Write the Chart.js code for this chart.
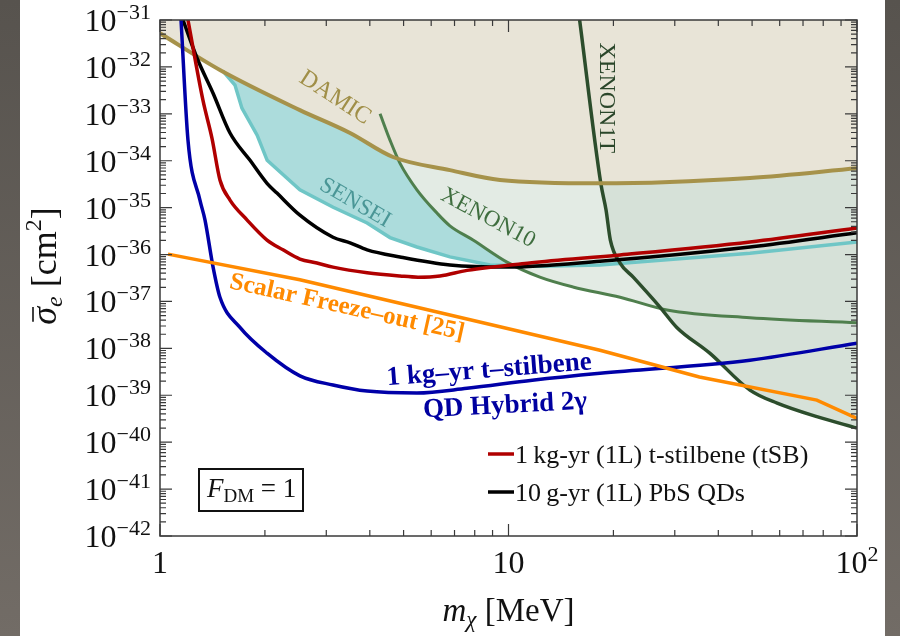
<!DOCTYPE html>
<html>
<head>
<meta charset="utf-8">
<script src="https://cdn.jsdelivr.net/npm/chart.js@4.4.0/dist/chart.umd.min.js"></script>
<style>
  html, body { margin: 0; padding: 0; background: #fff; }
  #wrap { width: 900px; height: 636px; }
</style>
</head>
<body>
<div id="wrap"><canvas id="cht" width="900" height="636"></canvas></div>
<script>
// dark matter mass [MeV] and cross section [cm^2] for each curve
const damicMass = [1, 1.49, 2.52, 3.51, 4.66, 6.79, 9.45, 18.3, 49.3, 100];
const damicSigma = [5.2e-32, 8.5e-33, 1.2e-33, 3.9e-34, 1.2e-34, 6.3e-35, 3.9e-35, 3.3e-35, 4.3e-35, 6.9e-35];

const senseiMass = [1.516, 1.641, 1.718, 1.90, 2.03, 2.52, 3.14, 3.93, 4.57, 5.46, 6.79, 8.85, 12.3, 18.3, 49.3, 100];
const senseiSigma = [8.1e-33, 4.1e-33, 1.32e-33, 3.5e-34, 1.02e-34, 2.4e-35, 1.02e-35, 4.7e-36, 2.3e-36, 1.45e-36, 8.9e-37, 6.0e-37, 5.6e-37, 6.0e-37, 1.07e-36, 1.86e-36];

const xenon10Mass = [4.28, 4.57, 4.88, 5.46, 6.24, 6.79, 7.91, 9.9, 12.3, 15.3, 20.9, 28.5, 49.3, 100];
const xenon10Sigma = [1e-33, 2.75e-34, 8.9e-35, 2.4e-35, 7.6e-36, 4.1e-36, 2.04e-36, 6.9e-37, 3.3e-37, 2.04e-37, 1.23e-37, 6.6e-38, 4.5e-38, 3.5e-38];

const xenon1tMass = [16.0, 18.4, 19.05, 19.6, 20.9, 22.8, 27.2, 30.4, 37.8, 49.3, 59.0, 76.7, 100];
const xenon1tSigma = [1e-31, 3.3e-35, 8.9e-36, 2.04e-36, 6.6e-37, 3.3e-37, 7.6e-38, 2.8e-38, 7.9e-39, 1.29e-39, 6.8e-40, 3.5e-40, 2.0e-40];

const freezeMass = [1.054, 2.52, 18.3, 35.3, 76.7, 100];
const freezeSigma = [1.02e-36, 2.9e-37, 9.1e-39, 2.45e-39, 7.9e-40, 3.2e-40];

const hybridMass = [1.149, 1.203, 1.302, 1.346, 1.42, 1.486, 1.696, 2.028, 2.52, 3.136, 3.93, 5.46, 7.6, 11.7, 18.3, 49.3, 100];
const hybridSigma = [1e-31, 2.75e-34, 1.45e-35, 5.5e-36, 5.4e-37, 1.23e-37, 2.8e-38, 7.9e-39, 2.6e-39, 1.66e-39, 1.23e-39, 1.12e-39, 1.41e-39, 2.1e-39, 2.95e-39, 5.6e-39, 1.29e-38];

const tsbMass = [1.203, 1.328, 1.41, 1.486, 1.588, 1.776, 2.028, 2.254, 2.52, 2.82, 3.136, 3.93, 4.88, 5.5, 6.36, 7.6, 11.5, 20.9, 49.3, 100];
const tsbSigma = [1e-31, 1.95e-33, 3.0e-34, 3.9e-35, 1.45e-35, 5.5e-36, 2.04e-36, 1.26e-36, 8.0e-37, 6.6e-37, 5.4e-37, 4.1e-37, 3.5e-37, 3.3e-37, 3.5e-37, 4.6e-37, 6.6e-37, 9.8e-37, 1.86e-36, 3.7e-36];

const qdMass = [1.164, 1.277, 1.42, 1.588, 1.813, 2.028, 2.166, 2.52, 3.136, 3.51, 3.93, 4.88, 6.79, 9.9, 18.3, 49.3, 100];
const qdSigma = [1e-31, 1.55e-32, 2.75e-33, 3.9e-34, 1.02e-34, 3.3e-35, 2.04e-35, 6.9e-36, 2.34e-36, 1.78e-36, 1.26e-36, 8.9e-37, 6.0e-37, 5.4e-37, 7.2e-37, 1.45e-36, 2.9e-36];

// axis ticks
const massTicks = [1, 10, 100];
const massTickText = [['1', ''], ['10', ''], ['10', '2']];
const sigmaPowers = [-31, -32, -33, -34, -35, -36, -37, -38, -39, -40, -41, -42];

const legendText = ['1\u2009kg-yr (1L) t-stilbene (tSB)', '10\u2009g-yr (1L) PbS QDs'];

const SERIF = '"Liberation Serif", "DejaVu Serif", serif';

function pts(ms, ss) {
  return ms.map((m, i) => ({ x: m, y: ss[i] }));
}

// draw a row of text pieces (different fonts / offsets) on one baseline
function runs(ctx, parts, x, y, align) {
  let w = 0;
  parts.forEach(p => { ctx.font = p.f; p.w = ctx.measureText(p.t).width; w += p.w; });
  let cx = align === 'center' ? x - w / 2 : (align === 'right' ? x - w : x);
  const starts = [];
  parts.forEach(p => {
    ctx.font = p.f;
    ctx.textAlign = 'left';
    ctx.textBaseline = 'alphabetic';
    ctx.fillText(p.t, cx, y + (p.dy || 0));
    starts.push(cx);
    cx += p.w;
  });
  return starts;
}

const frame = {
  id: 'frame',
  beforeDraw(chart) {
    const ctx = chart.ctx;
    const g = ctx.createLinearGradient(0, 0, 0, 636);
    g.addColorStop(0, '#57534e');
    g.addColorStop(1, '#726c66');
    ctx.save();
    ctx.fillStyle = g;
    ctx.fillRect(0, 0, 900, 636);
    ctx.fillStyle = '#ffffff';
    ctx.fillRect(20, 0, 865, 636);
    ctx.restore();
  },
  afterDraw(chart) {
    const ctx = chart.ctx;
    const xs = chart.scales.x, ys = chart.scales.y;
    const a = chart.chartArea;
    ctx.save();

    // curve labels
    function label(text, m, s, deg, font, color) {
      ctx.save();
      ctx.translate(xs.getPixelForValue(m), ys.getPixelForValue(s));
      ctx.rotate(deg * Math.PI / 180);
      ctx.font = font;
      ctx.fillStyle = color;
      ctx.textAlign = 'center';
      ctx.textBaseline = 'middle';
      ctx.fillText(text, 0, 0);
      ctx.restore();
    }
    label('DAMIC', 3.18, 2.2e-33, 33, '24px ' + SERIF, '#a08f48');
    label('SENSEI', 3.63, 1.26e-35, 30, '23px ' + SERIF, '#4a9696');
    label('XENON10', 8.73, 6.0e-36, 28, '23px ' + SERIF, '#3f6e3f');
    label('XENON1T', 19.05, 2.2e-33, 90, '24px ' + SERIF, '#2a462a');
    label('Scalar Freeze\u2013out [25]', 3.44, 7.4e-38, 12.5, 'bold 25px ' + SERIF, '#ff8a00');
    label('1 kg\u2013yr t\u2013stilbene', 8.8, 3.4e-39, -4.5, 'bold 27px ' + SERIF, '#0000a0');
    label('QD Hybrid 2\u03b3', 9.77, 5.9e-40, -3, 'bold 27px ' + SERIF, '#0000a0');

    // frame and inward ticks
    ctx.strokeStyle = '#3a3a3a';
    ctx.lineWidth = 1.5;
    ctx.strokeRect(a.left, a.top, a.right - a.left, a.bottom - a.top);
    ctx.lineWidth = 1.2;
    ctx.beginPath();
    sigmaPowers.forEach(p => {
      const y = ys.getPixelForValue(Math.pow(10, p));
      ctx.moveTo(a.left, y); ctx.lineTo(a.left + 12, y);
      ctx.moveTo(a.right, y); ctx.lineTo(a.right - 12, y);
      if (p < -31) {
        for (let k = 2; k <= 9; k++) {
          const ym = ys.getPixelForValue(k * Math.pow(10, p));
          ctx.moveTo(a.left, ym); ctx.lineTo(a.left + 6, ym);
          ctx.moveTo(a.right, ym); ctx.lineTo(a.right - 6, ym);
        }
      }
    });
    massTicks.forEach((v, i) => {
      const x = xs.getPixelForValue(v);
      ctx.moveTo(x, a.bottom); ctx.lineTo(x, a.bottom - 12);
      ctx.moveTo(x, a.top); ctx.lineTo(x, a.top + 12);
      if (i < massTicks.length - 1) {
        for (let k = 2; k <= 9; k++) {
          const xm = xs.getPixelForValue(k * v);
          ctx.moveTo(xm, a.bottom); ctx.lineTo(xm, a.bottom - 6);
          ctx.moveTo(xm, a.top); ctx.lineTo(xm, a.top + 6);
        }
      }
    });
    ctx.stroke();

    // tick labels
    ctx.fillStyle = '#111';
    sigmaPowers.forEach(p => {
      const y = ys.getPixelForValue(Math.pow(10, p));
      runs(ctx, [
        { t: '10', f: '32px ' + SERIF },
        { t: '\u2212' + Math.abs(p), f: '22px ' + SERIF, dy: -12 }
      ], a.left - 9, y + 11, 'right');
    });
    massTicks.forEach((v, i) => {
      const x = xs.getPixelForValue(v);
      const parts = [{ t: massTickText[i][0], f: '32px ' + SERIF }];
      if (massTickText[i][1]) parts.push({ t: massTickText[i][1], f: '22px ' + SERIF, dy: -12 });
      runs(ctx, parts, x, a.bottom + 37, 'center');
    });

    // axis titles
    runs(ctx, [
      { t: 'm', f: 'italic 33px ' + SERIF },
      { t: '\u03c7', f: 'italic 23px ' + SERIF, dy: 6 },
      { t: ' [MeV]', f: '33px ' + SERIF }
    ], (a.left + a.right) / 2, 621, 'center');

    ctx.save();
    ctx.translate(56, 266);
    ctx.rotate(-Math.PI / 2);
    const sx = runs(ctx, [
      { t: '\u03c3', f: 'italic 36px ' + SERIF },
      { t: 'e', f: 'italic 24px ' + SERIF, dy: 6 },
      { t: ' [cm', f: '36px ' + SERIF },
      { t: '2', f: '24px ' + SERIF, dy: -15 },
      { t: ']', f: '36px ' + SERIF }
    ], 0, 0, 'center');
    ctx.font = 'italic 36px ' + SERIF;
    const sw = ctx.measureText('\u03c3').width;
    ctx.strokeStyle = '#111';
    ctx.lineWidth = 1.6;
    ctx.beginPath();
    ctx.moveTo(sx[0] + 3, -23); ctx.lineTo(sx[0] + sw, -23);
    ctx.stroke();
    ctx.restore();

    // legend
    const legColors = ['#b00000', '#000000'];
    legendText.forEach((t, i) => {
      const y = 454 + i * 38;
      ctx.strokeStyle = legColors[i];
      ctx.lineWidth = 3.5;
      ctx.beginPath();
      ctx.moveTo(488, y); ctx.lineTo(514, y);
      ctx.stroke();
      ctx.fillStyle = '#111';
      runs(ctx, [{ t: t, f: '26px ' + SERIF }], 515, y + 9, 'left');
    });

    // F_DM box
    ctx.strokeStyle = '#111';
    ctx.lineWidth = 2;
    ctx.strokeRect(199, 469, 104, 42);
    ctx.fillStyle = '#111';
    runs(ctx, [
      { t: 'F', f: 'italic 27px ' + SERIF },
      { t: 'DM', f: '19px ' + SERIF, dy: 5 },
      { t: ' = 1', f: '27px ' + SERIF }
    ], 207, 497, 'left');

    ctx.restore();
  }
};

const excl = (label, ms, ss, line, fillC, w, tension) => ({
  label: label, data: pts(ms, ss), borderColor: line, backgroundColor: fillC,
  borderWidth: w, fill: 'end', pointRadius: 0, tension: tension,
  cubicInterpolationMode: tension ? 'monotone' : 'default', order: 1
});
const curve = (label, ms, ss, color, smooth) => ({
  label: label, data: pts(ms, ss), borderColor: color, borderWidth: 3.5,
  fill: false, pointRadius: 0, tension: smooth ? 0.4 : 0,
  cubicInterpolationMode: smooth ? 'monotone' : 'default', order: 0
});

new Chart('cht', {
  type: 'line',
  data: {
    datasets: [
      excl('DAMIC', damicMass, damicSigma, '#a6924a', '#e8e4d7', 4, 0.4),
      excl('XENON1T', xenon1tMass, xenon1tSigma, '#2c4d2c', '#d6e1d8', 3.5, 0.4),
      excl('XENON10', xenon10Mass, xenon10Sigma, '#4f7f4d', '#e3ebe4', 3, 0.4),
      excl('SENSEI', senseiMass, senseiSigma, '#6fc6c6', '#acdcdc', 3.5, 0),
      curve('Scalar Freeze-out', freezeMass, freezeSigma, '#ff8a00', false),
      curve('QD Hybrid', hybridMass, hybridSigma, '#0000a8', true),
      curve('tSB', tsbMass, tsbSigma, '#b00000', true),
      curve('PbS QDs', qdMass, qdSigma, '#000000', true)
    ]
  },
  options: {
    responsive: false,
    animation: false,
    devicePixelRatio: 1,
    layout: { padding: { left: 160, top: 20, right: 43, bottom: 100 } },
    scales: {
      x: { type: 'logarithmic', min: 1, max: 100, display: false },
      y: { type: 'logarithmic', min: 1e-42, max: 1e-31, display: false }
    },
    plugins: {
      legend: { display: false },
      tooltip: { enabled: false },
      filler: { drawTime: 'beforeDatasetsDraw', propagate: false }
    }
  },
  plugins: [frame]
});
</script>
</body>
</html>
